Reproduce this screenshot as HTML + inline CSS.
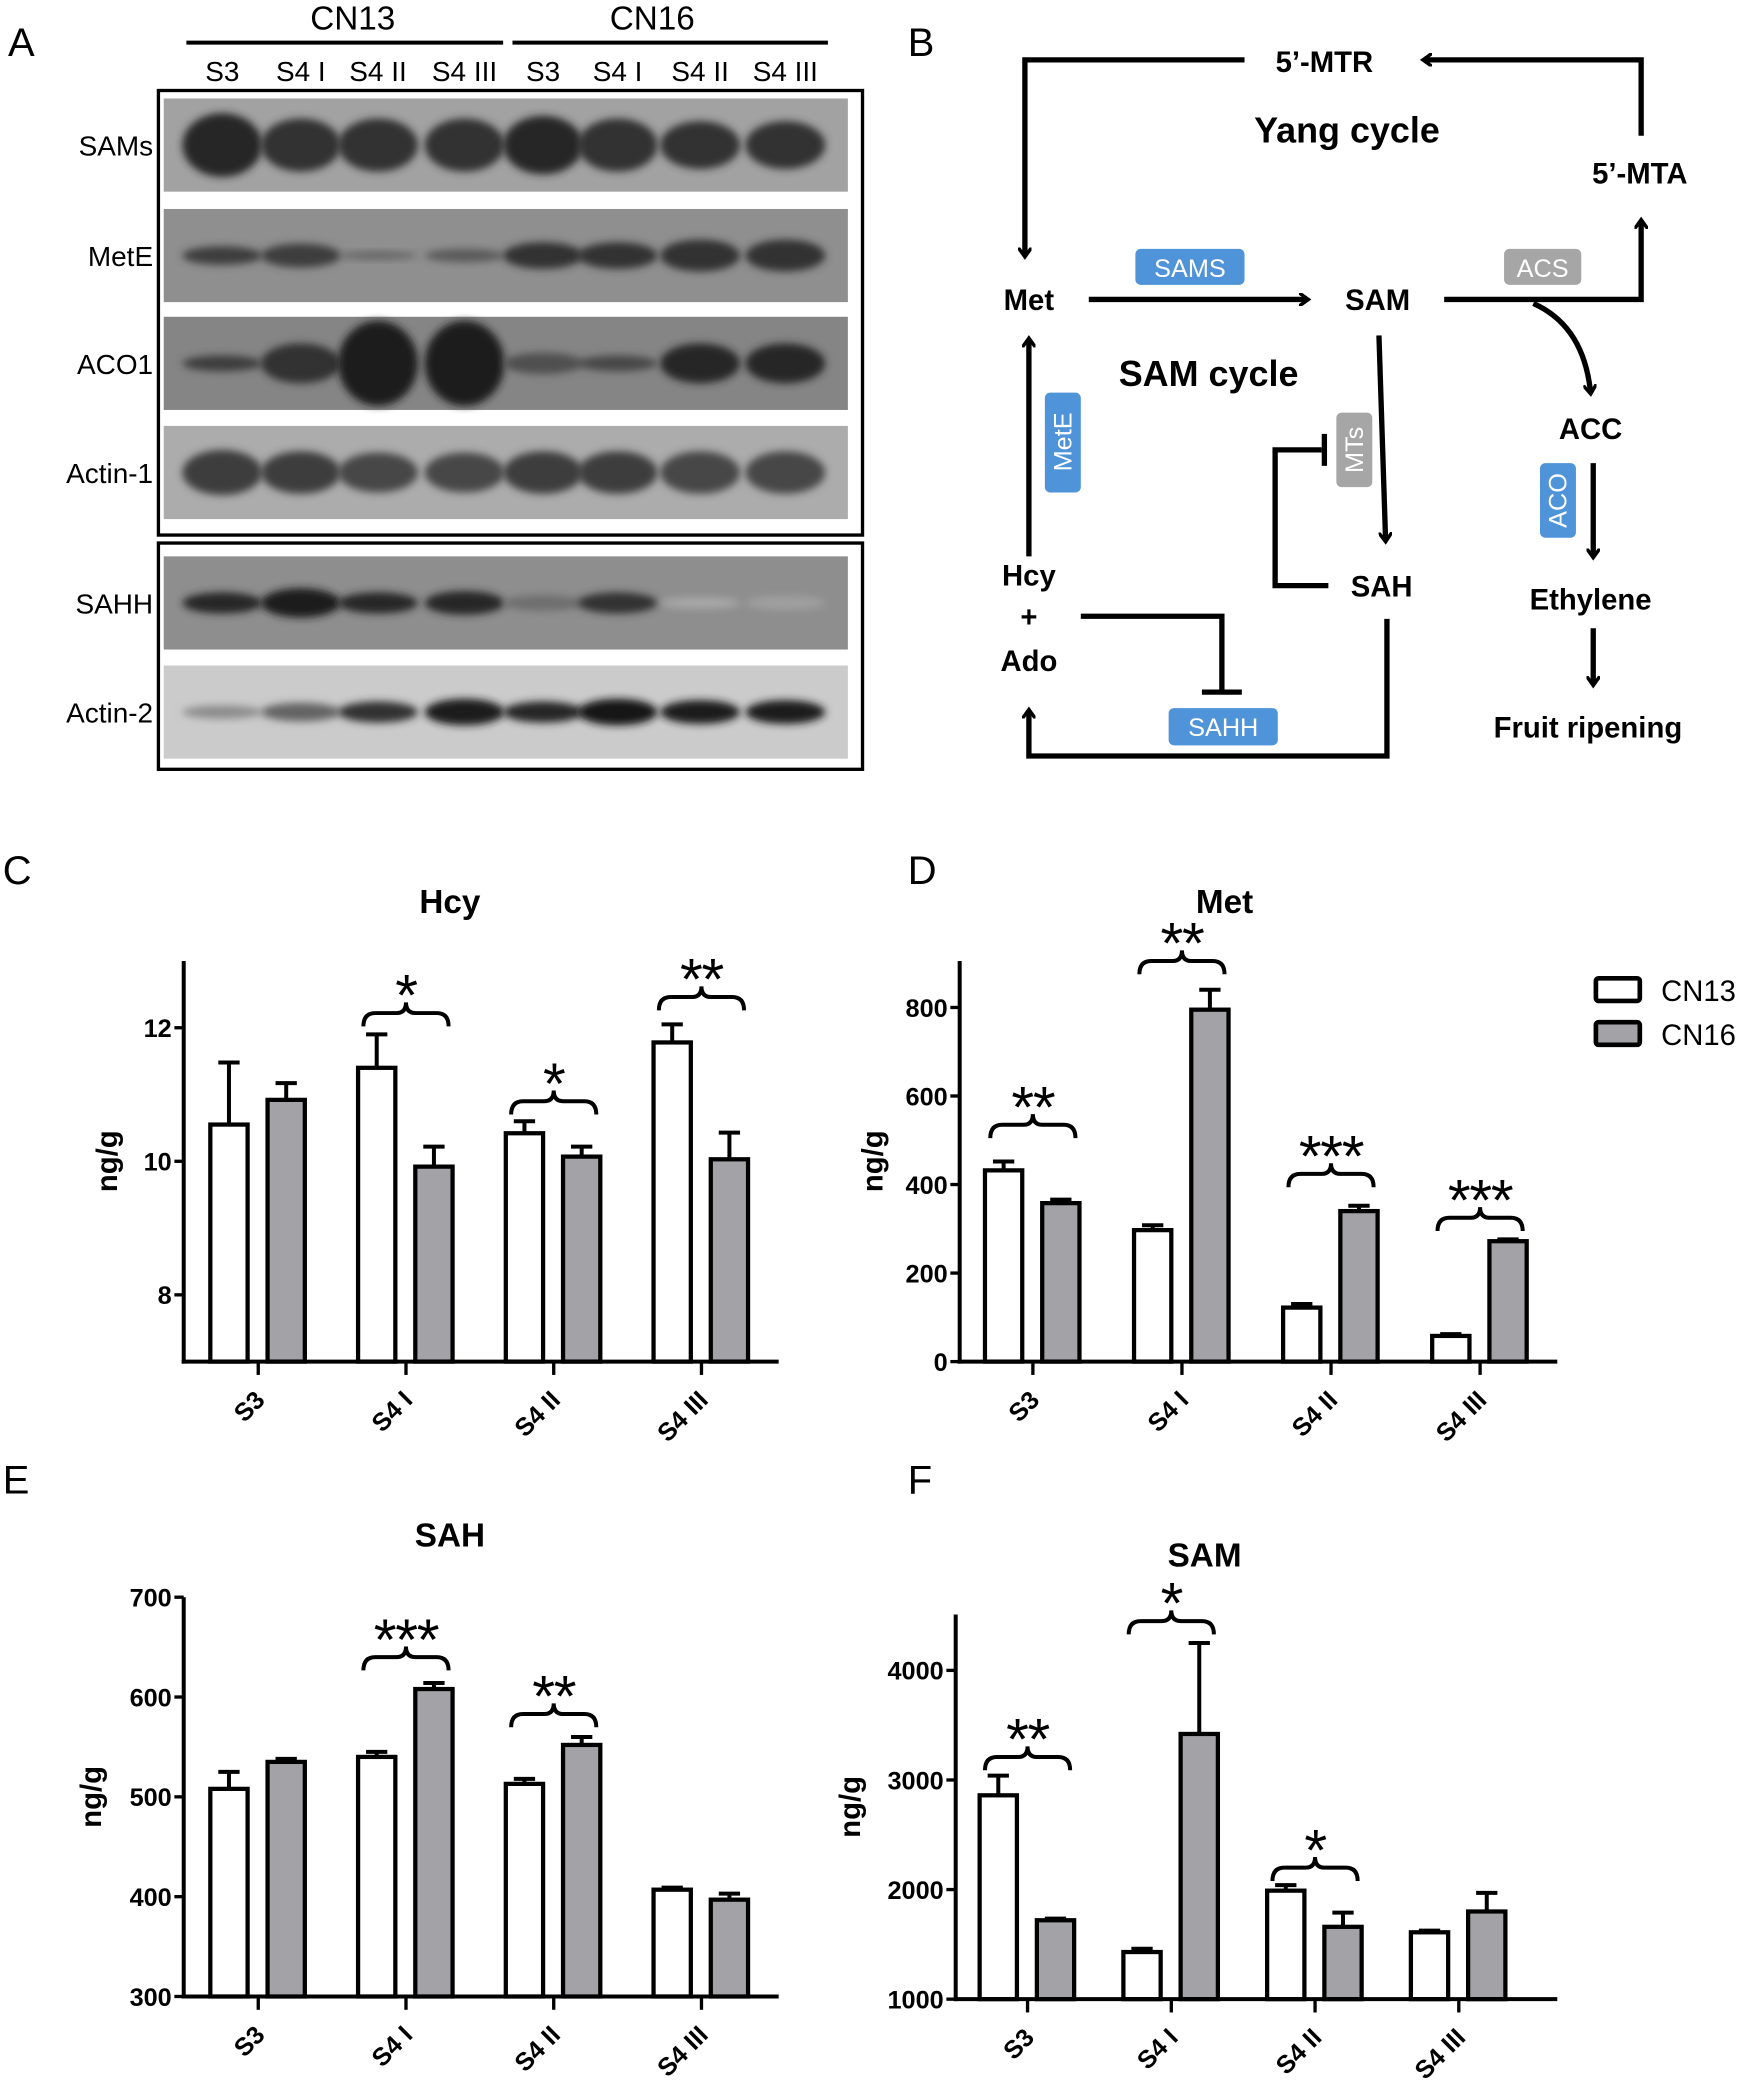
<!DOCTYPE html>
<html><head><meta charset="utf-8"><style>
html,body{margin:0;padding:0;background:#fff;}
svg{display:block;font-family:"Liberation Sans",Arial,sans-serif;}
</style></head><body>
<svg id="fig" width="1745" height="2087" viewBox="0 0 1311 1568" xmlns="http://www.w3.org/2000/svg">
<defs>
<filter id="blur" x="-50%" y="-50%" width="200%" height="200%"><feGaussianBlur stdDeviation="3"/></filter>
<marker id="ah" markerWidth="10" markerHeight="10" refX="6" refY="5" orient="auto" markerUnits="userSpaceOnUse" viewBox="0 0 10 10">
<path d="M0,0 L7,5 L0,10" fill="none" stroke="#000" stroke-width="2.6"/></marker>
</defs>
<rect width="1311" height="1568" fill="#fff"/>

<!-- Panel A -->
<g id="panelA">
<text x="6" y="42" font-size="30">A</text>
<text x="265" y="22" font-size="25" text-anchor="middle">CN13</text>
<text x="490" y="22" font-size="25" text-anchor="middle">CN16</text>
<line x1="140" y1="32" x2="378" y2="32" stroke="#000" stroke-width="3"/>
<line x1="385" y1="32" x2="622" y2="32" stroke="#000" stroke-width="3"/>
<rect x="119" y="68" width="529" height="334" fill="#fff" stroke="#000" stroke-width="2.5"/>
<rect x="119" y="408" width="529" height="170" fill="#fff" stroke="#000" stroke-width="2.5"/>
</g>

<!-- Panel B -->
<g id="panelB" font-weight="bold" fill="#000">
<text x="682" y="42" font-size="30" font-weight="normal">B</text>
<g stroke="#000" stroke-width="4" fill="none">
<polyline points="1233,102 1233,45 1070,45" marker-end="url(#ah)"/>
<polyline points="935,45 770,45 770,192" marker-end="url(#ah)"/>
<line x1="818" y1="225" x2="982" y2="225" marker-end="url(#ah)"/>
<polyline points="1085,225 1233,225 1233,166" marker-end="url(#ah)"/>
<path d="M1152,228 Q1190,245 1195,295" marker-end="url(#ah)"/>
<line x1="1197" y1="348" x2="1197" y2="418" marker-end="url(#ah)"/>
<line x1="1197" y1="472" x2="1197" y2="514" marker-end="url(#ah)"/>
<line x1="773" y1="418" x2="773" y2="255" marker-end="url(#ah)"/>
<line x1="1036" y1="252" x2="1041" y2="406" marker-end="url(#ah)"/>
<polyline points="998,440 958,440 958,338 993,338"/>
<line x1="995" y1="326" x2="995" y2="350"/>
<polyline points="812,463 918,463 918,520"/>
<line x1="903" y1="520" x2="933" y2="520"/>
<polyline points="1042,465 1042,568 773,568 773,534" marker-end="url(#ah)"/>
</g>
<text x="995" y="54" font-size="22" text-anchor="middle">5’-MTR</text>
<text x="1012" y="107" font-size="27" text-anchor="middle">Yang cycle</text>
<text x="1232" y="138" font-size="22" text-anchor="middle">5’-MTA</text>
<text x="773" y="233" font-size="22" text-anchor="middle">Met</text>
<text x="1035" y="233" font-size="22" text-anchor="middle">SAM</text>
<text x="908" y="290" font-size="27" text-anchor="middle">SAM cycle</text>
<text x="1195" y="330" font-size="22" text-anchor="middle">ACC</text>
<text x="1195" y="458" font-size="22" text-anchor="middle">Ethylene</text>
<text x="1193" y="554" font-size="22" text-anchor="middle">Fruit ripening</text>
<text x="773" y="440" font-size="22" text-anchor="middle">Hcy</text>
<text x="773" y="471" font-size="22" text-anchor="middle">+</text>
<text x="773" y="504" font-size="22" text-anchor="middle">Ado</text>
<text x="1038" y="448" font-size="22" text-anchor="middle">SAH</text>
<g font-weight="normal" font-size="19" fill="#fff" text-anchor="middle">
<rect x="853" y="187" width="82" height="27" rx="4" fill="#4f93d8"/><text x="894" y="208">SAMS</text>
<rect x="1130" y="187" width="58" height="27" rx="4" fill="#a6a6a6"/><text x="1159" y="208">ACS</text>
<rect x="878" y="532" width="82" height="28" rx="4" fill="#4f93d8"/><text x="919" y="553">SAHH</text>
<rect x="785" y="295" width="27" height="75" rx="4" fill="#4f93d8"/><text transform="translate(805,332) rotate(-90)">MetE</text>
<rect x="1004" y="310" width="27" height="56" rx="4" fill="#a6a6a6"/><text transform="translate(1024,338) rotate(-90)">MTs</text>
<rect x="1157" y="348" width="27" height="56" rx="4" fill="#4f93d8"/><text transform="translate(1177,376) rotate(-90)">ACO</text>
</g>
</g>

<g id="charts"></g>
</svg>
<script>
// ---- Chart data ----
const groups = ["S3", "S4 I", "S4 II", "S4 III"];
const hcyCN13 = [10.55, 11.4, 10.42, 11.78];
const hcyCN13Err = [0.93, 0.5, 0.18, 0.27];
const hcyCN16 = [10.92, 9.92, 10.07, 10.03];
const hcyCN16Err = [0.25, 0.3, 0.15, 0.4];
const hcyTicks = [8, 10, 12];
const hcySig = ["", "*", "*", "**"];
const hcySigLevel = [0, 12.22, 10.9, 12.46];

const metCN13 = [432, 297, 122, 58];
const metCN13Err = [20, 11, 8, 4];
const metCN16 = [358, 795, 340, 272];
const metCN16Err = [8, 45, 12, 4];
const metTicks = [0, 200, 400, 600, 800];
const metSig = ["**", "**", "***", "***"];
const metSigLevel = [535, 905, 424, 325];

const sahCN13 = [508, 540, 513, 407];
const sahCN13Err = [17, 5, 5, 2];
const sahCN16 = [535, 608, 552, 397];
const sahCN16Err = [3, 6, 8, 6];
const sahTicks = [300, 400, 500, 600, 700];
const sahSig = ["", "***", "**", ""];
const sahSigLevel = [0, 640, 583, 0];

const samCN13 = [2860, 1430, 1990, 1610];
const samCN13Err = [180, 30, 50, 15];
const samCN16 = [1720, 3420, 1660, 1800];
const samCN16Err = [15, 830, 130, 170];
const samTicks = [1000, 2000, 3000, 4000];
const samSig = ["**", "*", "*", ""];
const samSigLevel = [3210, 4450, 2200, 0];

// ---- Blot band data (lane intensities) ----
const laneX = [167, 226, 284, 349, 408, 464, 526, 590];
const laneLabels = ["S3", "S4 I", "S4 II", "S4 III", "S3", "S4 I", "S4 II", "S4 III"];
const blotNames = ["SAMs", "MetE", "ACO1", "Actin-1", "SAHH", "Actin-2"];
const blotBandH = [
  [24, 20, 20, 20, 22, 20, 18, 18],
  [7, 9, 3, 5, 10, 10, 12, 12],
  [6, 15, 32, 32, 8, 6, 15, 15],
  [17, 16, 15, 15, 16, 16, 16, 16],
  [8, 11, 8, 9, 6, 8, 4, 5],
  [5, 7, 8, 10, 8, 10, 9, 9]
];
const blotBandShade = [
  [0.9, 0.85, 0.85, 0.85, 0.9, 0.85, 0.85, 0.85],
  [0.8, 0.8, 0.6, 0.65, 0.85, 0.85, 0.85, 0.85],
  [0.8, 0.85, 0.95, 0.95, 0.7, 0.75, 0.9, 0.9],
  [0.8, 0.8, 0.75, 0.75, 0.8, 0.8, 0.75, 0.75],
  [0.9, 0.95, 0.9, 0.9, 0.55, 0.85, 0.25, 0.3],
  [0.4, 0.6, 0.85, 0.95, 0.9, 0.98, 0.95, 0.95]
];

const NS = "http://www.w3.org/2000/svg";
function mk(tag, attrs, parent) {
  const e = document.createElementNS(NS, tag);
  for (const k in attrs) e.setAttribute(k, attrs[k]);
  parent.appendChild(e);
  return e;
}

// ---- Blots ----
const panelA = document.getElementById("panelA");
const stripY = [74, 157, 238, 320, 418, 500];
const stripBg = ["#a2a2a2", "#8f8f8f", "#858585", "#acacac", "#8e8e8e", "#cbcbcb"];
blotNames.forEach((nm, i) => {
  const g = mk("g", {}, panelA);
  
  
  mk("rect", {x: 123, y: stripY[i], width: 514, height: 70, fill: stripBg[i]}, g);
  const cy = stripY[i] + 35;
  laneX.forEach((x, j) => {
    const s = blotBandShade[i][j];
    const c = Math.round(200 * (1 - s) + 20);
    const band = mk("ellipse", {cx: x, cy: cy, rx: 30, ry: blotBandH[i][j], fill: `rgb(${c},${c},${c})`, filter: "url(#blur)"}, g);
    
    
  });
  const t = mk("text", {x: 115, y: cy + 8, "font-size": 21, "text-anchor": "end"}, g);
  t.textContent = nm;
  
  
});
laneLabels.forEach((l, j) => {
  const t = mk("text", {x: laneX[j], y: 61, "font-size": 21, "text-anchor": "middle"}, panelA);
  t.textContent = l;
  
  
});

// ---- Bar charts ----
const charts = document.getElementById("charts");
function drawChart(cfg) {
  const g = mk("g", {}, charts);
  
  
  const y = v => cfg.y0 - (v - cfg.vmin) * (cfg.y0 - cfg.yTop) / (cfg.vmax - cfg.vmin);
  const gx = i => cfg.g0 + i * cfg.step;
  const lbl = mk("text", {x: cfg.lx, y: cfg.ly, "font-size": 30}, g);
  lbl.textContent = cfg.letter;
  
  
  const tt = mk("text", {x: cfg.tx, y: cfg.ty, "font-size": 25, "font-weight": "bold", "text-anchor": "middle"}, g);
  tt.textContent = cfg.title;
  
  
  const yl = mk("text", {transform: `translate(${cfg.x0 - cfg.ylOff},${(cfg.yTop + cfg.y0) / 2}) rotate(-90)`, "font-size": 22, "font-weight": "bold", "text-anchor": "middle"}, g);
  yl.textContent = "ng/g";
  
  
  const w = 28;
  groups.forEach((gn, i) => {
    [[cfg.a, cfg.ae, "#fff", -22], [cfg.b, cfg.be, "#a3a2a7", 21]].forEach(([vals, errs, fill, off], k) => {
      const cx = gx(i) + off;
      const top = y(vals[i]);
      const el = mk("line", {x1: cx, y1: top, x2: cx, y2: y(vals[i] + errs[i]), stroke: "#000", "stroke-width": 3}, g);
      
      
      mk("line", {x1: cx - 8, y1: y(vals[i] + errs[i]), x2: cx + 8, y2: y(vals[i] + errs[i]), stroke: "#000", "stroke-width": 3}, g);
      const r = mk("rect", {x: cx - w / 2, y: top, width: w, height: cfg.y0 - top, fill: fill, stroke: "#000", "stroke-width": 3.2}, g);
      
      
    });
    mk("line", {x1: gx(i), y1: cfg.y0, x2: gx(i), y2: cfg.y0 + 10, stroke: "#000", "stroke-width": 2.5}, g);
    const xl = mk("text", {transform: `translate(${gx(i) + 6},${cfg.y0 + 30}) rotate(-45)`, "font-size": 19, "font-weight": "bold", "text-anchor": "end"}, g);
    xl.textContent = gn;
    
    
    if (cfg.sig[i]) {
      const by = y(cfg.sigL[i]);
      const x1 = gx(i) - 32, x2 = gx(i) + 32, m = gx(i);
      const br = mk("path", {d: `M${x1},${by + 10} Q${x1},${by} ${x1 + 9},${by} L${m - 7},${by} Q${m},${by} ${m},${by - 8} Q${m},${by} ${m + 7},${by} L${x2 - 9},${by} Q${x2},${by} ${x2},${by + 10}`, fill: "none", stroke: "#000", "stroke-width": 3}, g);
      
      
      const st = mk("text", {x: m, y: by + 2, "font-size": 44, "text-anchor": "middle", "letter-spacing": "-1"}, g);
      st.textContent = cfg.sig[i];
      
      
    }
  });
  const ya = mk("line", {x1: cfg.x0, y1: cfg.yTop, x2: cfg.x0, y2: cfg.y0 + 1.5, stroke: "#000", "stroke-width": 3}, g);
  
  
  const xa = mk("line", {x1: cfg.x0 - 1.5, y1: cfg.y0, x2: cfg.xR, y2: cfg.y0, stroke: "#000", "stroke-width": 3}, g);
  
  
  cfg.ticks.forEach(t => {
    mk("line", {x1: cfg.x0 - 7, y1: y(t), x2: cfg.x0, y2: y(t), stroke: "#000", "stroke-width": 2.5}, g);
    const tl = mk("text", {x: cfg.x0 - 9, y: y(t) + 7, "font-size": 19, "font-weight": "bold", "text-anchor": "end"}, g);
    tl.textContent = t;
    
    
  });
}

drawChart({name: "chart-hcy", letter: "C", lx: 2, ly: 664, title: "Hcy", tx: 338, ty: 686, ylOff: 50,
  x0: 138, xR: 585, yTop: 722, y0: 1023, vmin: 7, vmax: 13, g0: 194, step: 111,
  a: hcyCN13, ae: hcyCN13Err, b: hcyCN16, be: hcyCN16Err, ticks: hcyTicks, sig: hcySig, sigL: hcySigLevel});
drawChart({name: "chart-met", letter: "D", lx: 682, ly: 664, title: "Met", tx: 920, ty: 686, ylOff: 58,
  x0: 721, xR: 1170, yTop: 722, y0: 1023, vmin: 0, vmax: 905, g0: 776, step: 112,
  a: metCN13, ae: metCN13Err, b: metCN16, be: metCN16Err, ticks: metTicks, sig: metSig, sigL: metSigLevel});
drawChart({name: "chart-sah", letter: "E", lx: 2, ly: 1122, title: "SAH", tx: 338, ty: 1162, ylOff: 62,
  x0: 138, xR: 585, yTop: 1200, y0: 1500, vmin: 300, vmax: 700, g0: 194, step: 111,
  a: sahCN13, ae: sahCN13Err, b: sahCN16, be: sahCN16Err, ticks: sahTicks, sig: sahSig, sigL: sahSigLevel});
drawChart({name: "chart-sam", letter: "F", lx: 682, ly: 1122, title: "SAM", tx: 905, ty: 1177, ylOff: 72,
  x0: 718, xR: 1170, yTop: 1213, y0: 1502, vmin: 1000, vmax: 4510, g0: 772, step: 108,
  a: samCN13, ae: samCN13Err, b: samCN16, be: samCN16Err, ticks: samTicks, sig: samSig, sigL: samSigLevel});

// legend
const lg = mk("g", {}, charts);


mk("rect", {x: 1199, y: 735, width: 33, height: 17, rx: 2, fill: "#fff", stroke: "#000", "stroke-width": 3.5}, lg);
mk("rect", {x: 1199, y: 768, width: 33, height: 17, rx: 2, fill: "#a3a2a7", stroke: "#000", "stroke-width": 3.5}, lg);
const l1 = mk("text", {x: 1248, y: 752, "font-size": 22}, lg);
l1.textContent = "CN13";


const l2 = mk("text", {x: 1248, y: 785, "font-size": 22}, lg);
l2.textContent = "CN16";


</script>
</body></html>
